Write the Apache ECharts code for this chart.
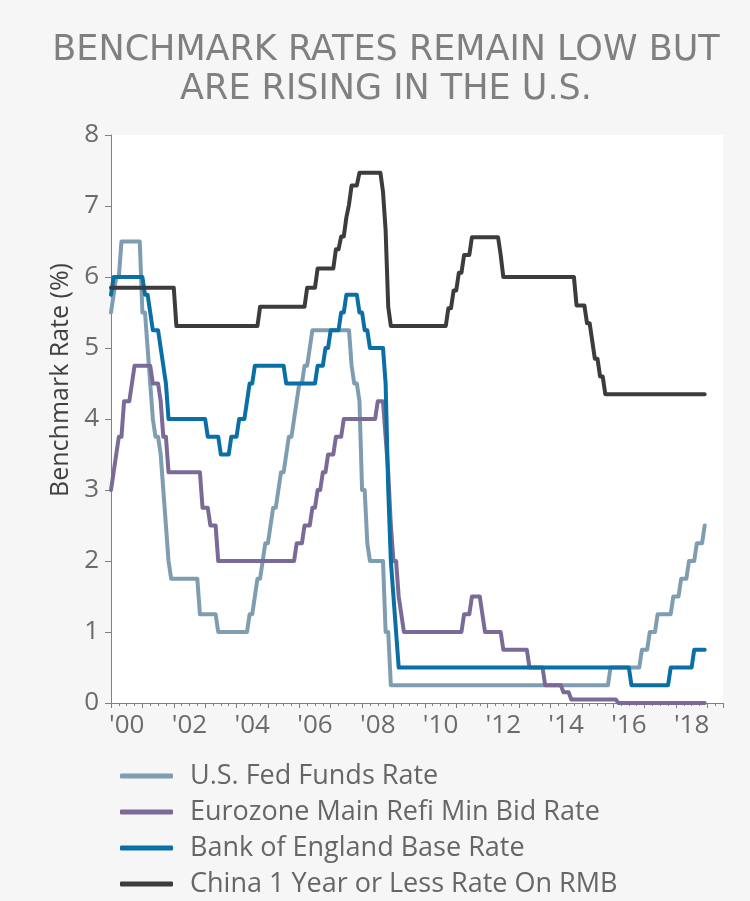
<!DOCTYPE html>
<html>
<head>
<meta charset="utf-8">
<script src="https://cdn.jsdelivr.net/npm/echarts@6/dist/echarts.min.js"></script>
<style>
html,body{margin:0;padding:0;background:#f6f6f6;}
#chart{width:750px;height:901px;}
</style>
</head>
<body>
<div id="chart"></div>
<script>
// Chart text
const titleText = 'BENCHMARK RATES REMAIN LOW BUT\nARE RISING IN THE U.S.';
const yAxisName = 'Benchmark Rate (%)';
const seriesNames = [
  'U.S. Fed Funds Rate',
  'Eurozone Main Refi Min Bid Rate',
  'Bank of England Base Rate',
  'China 1 Year or Less Rate On RMB'
];
const yearLabels = ["'00","'02","'04","'06","'08","'10","'12","'14","'16","'18"];
const lastMonth = '2018-12';

// Rate change points: [month the new rate applies, rate %]
const fedFunds = [
  ['2000-01',5.50],['2000-02',5.75],['2000-03',6.00],['2000-05',6.50],
  ['2001-01',5.50],['2001-03',5.00],['2001-04',4.50],['2001-05',4.00],['2001-06',3.75],
  ['2001-08',3.50],['2001-09',3.00],['2001-10',2.50],['2001-11',2.00],['2001-12',1.75],
  ['2002-11',1.25],['2003-06',1.00],
  ['2004-06',1.25],['2004-08',1.50],['2004-09',1.75],['2004-11',2.00],['2004-12',2.25],
  ['2005-02',2.50],['2005-03',2.75],['2005-05',3.00],['2005-06',3.25],['2005-08',3.50],
  ['2005-09',3.75],['2005-11',4.00],['2005-12',4.25],
  ['2006-01',4.50],['2006-03',4.75],['2006-05',5.00],['2006-06',5.25],
  ['2007-09',4.75],['2007-10',4.50],['2007-12',4.25],
  ['2008-01',3.00],['2008-03',2.25],['2008-04',2.00],['2008-10',1.00],['2008-12',0.25],
  ['2015-12',0.50],['2016-12',0.75],['2017-03',1.00],['2017-06',1.25],['2017-12',1.50],
  ['2018-03',1.75],['2018-06',2.00],['2018-09',2.25],['2018-12',2.50]
];
const euroRefi = [
  ['2000-01',3.00],['2000-02',3.25],['2000-03',3.50],['2000-04',3.75],['2000-06',4.25],
  ['2000-09',4.50],['2000-10',4.75],
  ['2001-05',4.50],['2001-08',4.25],['2001-09',3.75],['2001-11',3.25],
  ['2002-12',2.75],['2003-03',2.50],['2003-06',2.00],
  ['2005-12',2.25],['2006-03',2.50],['2006-06',2.75],['2006-08',3.00],['2006-10',3.25],
  ['2006-12',3.50],['2007-03',3.75],['2007-06',4.00],
  ['2008-07',4.25],['2008-10',3.75],['2008-11',3.25],['2008-12',2.50],['2009-01',2.00],
  ['2009-03',1.50],['2009-04',1.25],['2009-05',1.00],
  ['2011-04',1.25],['2011-07',1.50],['2011-11',1.25],['2011-12',1.00],
  ['2012-07',0.75],['2013-05',0.50],['2013-11',0.25],['2014-06',0.15],['2014-09',0.05],
  ['2016-03',0.00]
];
const boeBase = [
  ['2000-01',5.75],['2000-02',6.00],
  ['2001-02',5.75],['2001-04',5.50],['2001-05',5.25],['2001-08',5.00],['2001-09',4.75],
  ['2001-10',4.50],['2001-11',4.00],
  ['2003-02',3.75],['2003-07',3.50],['2003-11',3.75],['2004-02',4.00],['2004-05',4.25],
  ['2004-06',4.50],['2004-08',4.75],
  ['2005-08',4.50],['2006-08',4.75],['2006-11',5.00],['2007-01',5.25],['2007-05',5.50],
  ['2007-07',5.75],['2007-12',5.50],['2008-02',5.25],['2008-04',5.00],['2008-10',4.50],
  ['2008-11',3.00],['2008-12',2.00],['2009-01',1.50],['2009-02',1.00],['2009-03',0.50],
  ['2016-08',0.25],['2017-11',0.50],['2018-08',0.75]
];
const chinaRmb = [
  ['2000-01',5.85],['2002-02',5.31],['2004-10',5.58],['2006-04',5.85],['2006-08',6.12],
  ['2007-03',6.39],['2007-05',6.57],['2007-07',6.84],['2007-08',7.02],['2007-09',7.29],
  ['2007-12',7.47],['2008-09',7.20],['2008-10',6.66],['2008-11',5.58],['2008-12',5.31],
  ['2010-10',5.56],['2010-12',5.81],['2011-02',6.06],['2011-04',6.31],['2011-07',6.56],
  ['2012-06',6.31],['2012-07',6.00],
  ['2014-11',5.60],['2015-03',5.35],['2015-05',5.10],['2015-06',4.85],['2015-08',4.60],
  ['2015-10',4.35]
];

const colors = ['#7f9db1','#7b6a97','#0a6fa4','#3c3c3c'];

function toT(s){ const p = s.split('-').map(Number); return p[0] + (p[1]-1)/12; }
// monthly series: rate holds until the month before a change
function build(points){
  const out = []; let prev = null;
  points.forEach(function(pt){
    const t = toT(pt[0]);
    if (prev && t - 1/12 > prev[0] + 1e-6) out.push([t - 1/12, prev[1]]);
    out.push([t, pt[1]]);
    prev = [t, pt[1]];
  });
  const te = toT(lastMonth);
  if (te > prev[0] + 1e-6) out.push([te, prev[1]]);
  return out;
}

const allData = [fedFunds, euroRefi, boeBase, chinaRmb];
const FONT = 'Open Sans';

const chart = echarts.init(document.getElementById('chart'), null, {renderer:'canvas'});
chart.setOption({
  animation: false,
  backgroundColor: '#f6f6f6',
  title: {
    text: titleText,
    left: 386, top: 31, textAlign: 'center', padding: 0,
    textStyle: { fontFamily: 'DejaVu Sans', fontSize: 35, fontWeight: 'normal', color: '#808080', lineHeight: 39 }
  },
  grid: { left: 111, right: 27, top: 135, bottom: 198, show: true, backgroundColor: '#ffffff', borderWidth: 0 },
  legend: {
    orient: 'vertical', left: 120, top: 761, padding: 0,
    itemWidth: 53, itemHeight: 5, itemGap: 6, icon: 'roundRect',
    data: seriesNames,
    textStyle: { fontFamily: FONT, fontSize: 27, color: '#666', lineHeight: 30, padding: [0,0,0,12] }
  },
  xAxis: {
    type: 'value', min: 2000, max: 2019.5, interval: 1,
    axisLine: { show: true, lineStyle: { color: '#808080', width: 1 } },
    axisTick: { show: true, length: 5, lineStyle: { color: '#808080' } },
    minorTick: { show: true, splitNumber: 4, length: 3, lineStyle: { color: '#808080' } },
    splitLine: { show: false },
    axisLabel: {
      showMinLabel: true, showMaxLabel: true,
      fontFamily: FONT, fontSize: 26, color: '#6b6b6b', margin: 10,
      padding: [0,0,0,31.4],
      formatter: function(v){
        const y = Math.round(v);
        if (Math.abs(v - y) > 1e-6) return '';
        const i = (y - 2000) / 2;
        return (Number.isInteger(i) && i >= 0 && i < yearLabels.length) ? yearLabels[i] : '';
      }
    }
  },
  yAxis: {
    type: 'value', min: 0, max: 8, interval: 1,
    name: yAxisName, nameLocation: 'middle', nameGap: 36,
    nameTextStyle: { fontFamily: FONT, fontSize: 25, color: '#404040', padding: [0,0,0,78] },
    axisLine: { show: true, lineStyle: { color: '#808080', width: 1 } },
    axisTick: { show: true, length: 6, lineStyle: { color: '#808080' } },
    splitLine: { show: false },
    axisLabel: { fontFamily: FONT, fontSize: 26, color: '#6b6b6b', margin: 12 }
  },
  series: seriesNames.map(function(name, i){
    return {
      name: name, type: 'line', data: build(allData[i]),
      showSymbol: false, symbol: 'none', color: colors[i],
      lineStyle: { width: 4, color: colors[i], cap: 'round', join: 'round' }
    };
  })
});
</script>
</body>
</html>
